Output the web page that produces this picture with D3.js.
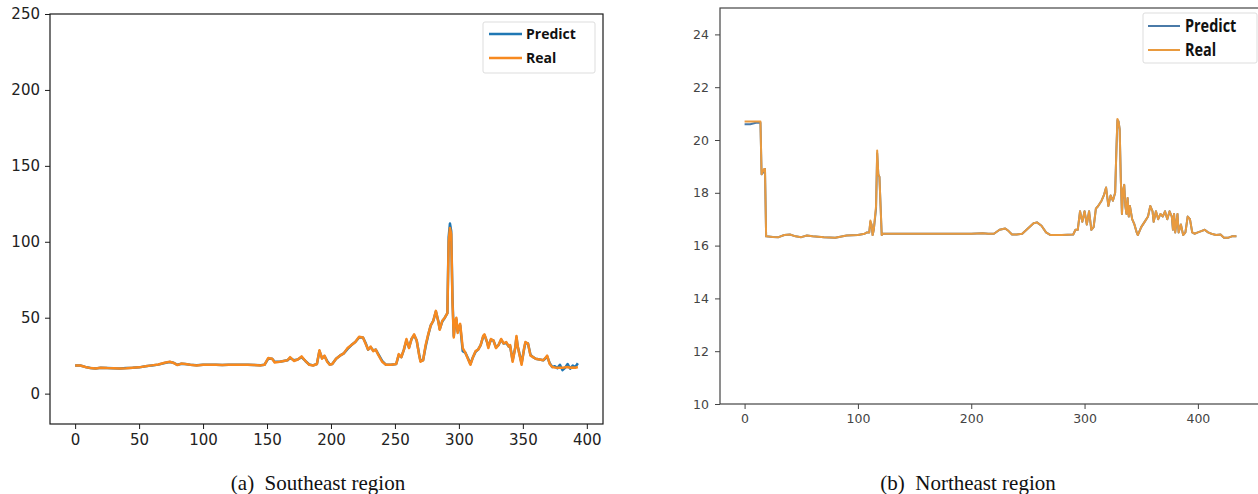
<!DOCTYPE html>
<html>
<head>
<meta charset="utf-8">
<script src="https://cdn.jsdelivr.net/npm/d3@7"></script>
<style>
  html, body { margin: 0; padding: 0; background: #fff; }
  svg { display: block; }
</style>
</head>
<body>
<svg id="chart" width="1258" height="494"></svg>
<script>
// ---------------- DATA ----------------
// (a) Southeast region
const seIndex = [0,4,8,12,16,20,25,30,35,40,45,50,55,60,65,70,74,77,80,83,86,90,95,100,105,110,115,120,125,130,135,140,145,148,151,154,156,160,163,166,168,171,174,177,180,183,186,189,191,193,195,197,199,201,204,207,210,213,216,219,222,225,227,229,231,233,235,237,240,243,247,251,253,255,257,259,261,263,265,267,269,270,272,274,276,278,280,282,284,285,287,289,291,292,293,294,295,296,297,298,299,300,301,303,305,307,309,311,313,315,317,319,320,322,323,325,327,329,331,333,335,337,339,340,342,344,345,346,347,349,351,352,354,356,358,360,363,366,368,369,371,373,375,377,379,381,383,385,387,389,391,393];
const seReal  = [18.5,18.5,17.5,16.8,16.5,17,16.8,16.7,16.6,16.7,17,17.3,18,18.6,19.2,20.3,21,20.2,18.8,19.8,19.5,19,18.6,19,19,19,18.8,19,19,19.1,19,18.9,18.6,19,23.5,23,20.5,21,21.5,22,24,21.5,22.5,24.5,21.5,19,18.5,19.5,28.5,23,25,21,19,19.5,23,25,26.5,30,32,34,37.5,37,33,29,31,28,29,25.5,21,19,19,19.5,26,24,29,36,30,36,39,35,25,21,22,32,39,45,48,54.5,47,42,48,50,53,100,109,105,60,37,48,50,40,44,46,30,27,23,19,24,28,29,32,38,39,34,30,36,35,30,32,36,33,34,31,32,21,30,38,31,27,19,30,34,33,25,24,23,22.5,22,24,25,19.5,17.5,17.2,17,17,17,17.3,17.5,17,17.2,17,17.5];
const sePredict = [18.6,18.5,17.6,16.9,16.5,17,16.9,16.7,16.6,16.8,17,17.3,18,18.6,19.1,20.2,20.8,20.3,19,19.7,19.5,19,18.7,19,19,19,18.9,19,19,19,19,18.9,18.7,19,23,23,21,21,21.5,22,23.5,22,22.5,24,21.5,19.2,18.6,19.5,28,23.5,24.5,21.5,19.2,19.5,23,25,26.5,29.5,32,34,37,37,33.5,29,30.5,28.5,29,26,21.5,19,19,19.5,25.5,24,29,35,30.5,36,38.5,35,25.5,21.5,22,31,38.5,45,48,54,47.5,42.5,47.5,50,53,103,112,107,62,38,47,49,41,43,45,28,27,23.5,19.5,24,27.5,29,32,37.5,38.5,34,31,35.5,35,30.5,32,35.5,33,33.5,31,31.5,22,30,37,31,27.5,20,29.5,33.5,33,25.5,24,23,22.5,22,23.5,24.5,20,17.5,18,16.8,19,15.5,17,19.5,16.5,18.5,17.5,20];
const seXTicks = [0,50,100,150,200,250,300,350,400];
const seYTicks = [0,50,100,150,200,250];

// (b) Northeast region
const neIndex = [0,5,10,14,15,17,18,19,25,30,35,40,45,50,55,60,70,80,90,100,106,108,110,111,112,113,114,116,117,118,119,120,121,122,140,160,180,200,210,215,220,225,230,233,236,240,245,250,255,258,262,266,270,280,290,292,294,296,298,300,302,304,306,308,310,312,315,317,319,321,323,325,327,328,329,330,331,332,333,334,335,336,337,338,339,340,342,344,346,347,350,353,356,358,360,361,363,365,367,369,371,373,375,377,378,379,380,382,383,385,387,389,391,393,395,397,400,403,406,409,412,416,420,423,427,430,434];
const neReal = [20.7,20.7,20.7,20.7,18.7,18.9,18.9,16.35,16.33,16.32,16.4,16.42,16.35,16.32,16.38,16.35,16.32,16.3,16.38,16.4,16.45,16.5,16.5,16.95,16.8,16.4,16.6,17.5,19.6,18.7,18.6,17.5,16.4,16.45,16.45,16.45,16.45,16.45,16.47,16.45,16.45,16.6,16.65,16.55,16.42,16.42,16.45,16.65,16.85,16.88,16.75,16.5,16.4,16.4,16.42,16.6,16.6,17.3,16.9,17.3,16.8,17.3,16.6,16.7,17.4,17.5,17.7,17.9,18.2,17.5,17.9,17.7,18.0,19.5,20.8,20.7,20.4,18.5,17.2,18.1,18.3,17.5,17.2,17.8,17.1,17.5,17.0,16.8,16.5,16.4,16.7,16.9,17.1,17.5,17.3,16.9,17.3,17.0,17.2,17.1,17.3,17.0,17.3,17.1,16.6,17.2,16.5,17.2,16.5,16.8,16.4,16.5,17.1,17.0,16.5,16.45,16.5,16.55,16.6,16.5,16.45,16.4,16.42,16.3,16.3,16.35,16.35];
const nePredict = [20.6,20.6,20.65,20.65,18.7,18.8,18.9,16.35,16.33,16.32,16.4,16.42,16.35,16.32,16.38,16.35,16.32,16.3,16.38,16.4,16.45,16.5,16.5,16.9,16.8,16.4,16.6,17.4,19.5,18.7,18.6,17.5,16.4,16.45,16.45,16.45,16.45,16.45,16.47,16.45,16.45,16.6,16.65,16.55,16.42,16.42,16.45,16.65,16.85,16.88,16.75,16.5,16.4,16.4,16.42,16.6,16.6,17.3,16.9,17.3,16.8,17.3,16.6,16.7,17.4,17.5,17.7,17.9,18.2,17.5,17.9,17.7,18.0,19.5,20.75,20.7,20.4,18.5,17.2,18.1,18.3,17.5,17.2,17.8,17.1,17.5,17.0,16.8,16.5,16.4,16.7,16.9,17.1,17.5,17.3,16.9,17.3,17.0,17.2,17.1,17.3,17.0,17.3,17.1,16.6,17.2,16.5,17.2,16.5,16.8,16.4,16.5,17.1,17.0,16.5,16.45,16.5,16.55,16.6,16.5,16.45,16.4,16.42,16.3,16.3,16.35,16.35];
const neXTicks = [0,100,200,300,400];
const neYTicks = [10,12,14,16,18,20,22,24];

const seriesNames = ["Predict", "Real"];
const captions = ["(a)  Southeast region", "(b)  Northeast region"];

// ---------------- DRAW ----------------
const svg = d3.select("#chart");

function panel(cfg) {
  const g = svg.append("g");
  const x = d3.scaleLinear().domain(cfg.xDomain).range([cfg.left, cfg.right]);
  const y = d3.scaleLinear().domain(cfg.yDomain).range([cfg.bottom, cfg.top]);

  const line = d3.line().x(d => x(d[0])).y(d => y(d[1]));
  const predPts = cfg.index.map((v, i) => [v, cfg.predict[i]]);
  const realPts = cfg.index.map((v, i) => [v, cfg.real[i]]);

  g.append("path").datum(predPts).attr("d", line)
    .attr("fill", "none").attr("stroke", cfg.predColor)
    .attr("stroke-width", cfg.lw).attr("stroke-linejoin", "round");
  g.append("path").datum(realPts).attr("d", line)
    .attr("fill", "none").attr("stroke", cfg.realColor)
    .attr("stroke-width", cfg.lw).attr("stroke-linejoin", "round");

  // frame
  g.append("rect").attr("x", cfg.left).attr("y", cfg.top)
    .attr("width", cfg.right - cfg.left).attr("height", cfg.bottom - cfg.top)
    .attr("fill", "none").attr("stroke", cfg.frameColor).attr("stroke-width", cfg.frameW);

  // axes
  const xAxis = d3.axisBottom(x).tickValues(cfg.xTicks).tickSize(5).tickPadding(cfg.xPad).tickFormat(d3.format("d"));
  const yAxis = d3.axisLeft(y).tickValues(cfg.yTicks).tickSize(5).tickPadding(cfg.yPad).tickFormat(d3.format("d"));
  const gx = g.append("g").attr("transform", `translate(0,${cfg.bottom})`).call(xAxis);
  const gy = g.append("g").attr("transform", `translate(${cfg.left},0)`).call(yAxis);
  [gx, gy].forEach(a => {
    a.select(".domain").remove();
    a.selectAll(".tick line").attr("stroke", cfg.frameColor).attr("stroke-width", 1);
    a.selectAll(".tick text").attr("fill", cfg.tickColor)
      .style("font-family", "'DejaVu Sans', sans-serif").style("font-size", cfg.tickFont + "px");
  });

  // legend
  const L = cfg.legend;
  const lg = g.append("g");
  lg.append("rect").attr("x", L.x).attr("y", L.y).attr("width", L.w).attr("height", L.h)
    .attr("rx", 2).attr("fill", "#fff").attr("stroke", "#ddd").attr("stroke-width", 1);
  [cfg.predColor, cfg.realColor].forEach((c, i) => {
    const yy = L.y + L.row0 + i * L.rowH;
    lg.append("line").attr("x1", L.x + L.lx1).attr("x2", L.x + L.lx2)
      .attr("y1", yy).attr("y2", yy).attr("stroke", c).attr("stroke-width", cfg.lw);
    lg.append("text").attr("x", L.x + L.tx).attr("y", yy).attr("dy", "0.36em")
      .attr("fill", "#111").style("font-family", L.font).style("font-weight", "bold")
      .style("font-size", L.fs + "px").text(seriesNames[i])
      .attr("transform", L.sx ? `translate(${(L.x + L.tx) * (1 - L.sx)},0) scale(${L.sx},1)` : null);
  });

  svg.append("text").attr("x", cfg.capX).attr("y", 490).attr("text-anchor", "middle")
    .style("font-family", "'Liberation Serif', 'Times New Roman', serif").style("font-size", "21px")
    .style("white-space", "pre").attr("xml:space", "preserve")
    .attr("fill", "#111").text(cfg.caption);
}

panel({
  index: seIndex, real: seReal, predict: sePredict,
  xDomain: [-19.65, 412.65], yDomain: [-20, 250],
  left: 50, right: 603, top: 14, bottom: 424,
  xTicks: seXTicks, yTicks: seYTicks, xPad: 5, yPad: 5,
  predColor: "#1f77b4", realColor: "#f7891f", lw: 2.5,
  frameColor: "#1a1a1a", frameW: 1.2, tickColor: "#222", tickFont: 15,
  legend: { x: 483, y: 22, w: 112, h: 51, row0: 12, rowH: 24, lx1: 6, lx2: 39, tx: 43,
            font: "'Open Sans', sans-serif", fs: 14 },
  caption: captions[0], capX: 318
});

panel({
  index: neIndex, real: neReal, predict: nePredict,
  xDomain: [-21.7, 455.7], yDomain: [10, 25],
  left: 720, right: 1261, top: 8, bottom: 404,
  xTicks: neXTicks, yTicks: neYTicks, xPad: 5, yPad: 6,
  predColor: "#4a7aa8", realColor: "#e99a3e", lw: 2,
  frameColor: "#444", frameW: 1.2, tickColor: "#444", tickFont: 12.5,
  legend: { x: 1143, y: 13, w: 114, h: 50, row0: 13, rowH: 24, lx1: 5, lx2: 37, tx: 42,
            font: "'Open Sans', sans-serif", fs: 17, sx: 0.85 },
  caption: captions[1], capX: 968
});
</script>
</body>
</html>
